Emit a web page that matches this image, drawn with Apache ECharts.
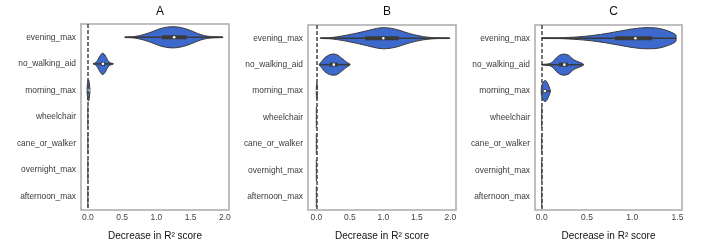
<!DOCTYPE html>
<html>
<head>
<meta charset="utf-8">
<script src="https://cdn.jsdelivr.net/npm/echarts@6/dist/echarts.min.js"></script>
<style>
  html, body { margin: 0; padding: 0; background: #fff; }
  #chart { width: 720px; height: 246px; }
</style>
</head>
<body>
<div id="chart"></div>
<script>
const features = ['evening_max', 'no_walking_aid', 'morning_max', 'wheelchair', 'cane_or_walker', 'overnight_max', 'afternoon_max']
const panelTitles = ['A', 'B', 'C']
const ticksAB = [0, 0.5, 1, 1.5, 2]
const ticksC = [0, 0.5, 1, 1.5]

// violin outlines: [value, half width as share of the category band]
const flat = [[0, 0.4]]
const profA = [
  [[0.54, 0.01], [0.65, 0.02], [0.75, 0.06], [0.85, 0.13], [0.95, 0.22], [1.05, 0.32], [1.15, 0.38], [1.25, 0.4], [1.35, 0.37], [1.45, 0.3], [1.55, 0.2], [1.65, 0.1], [1.75, 0.04], [1.85, 0.02], [1.97, 0.01]],
  [[0.08, 0.01], [0.12, 0.05], [0.16, 0.22], [0.2, 0.38], [0.22, 0.4], [0.25, 0.33], [0.28, 0.18], [0.31, 0.07], [0.35, 0.02], [0.37, 0.01]],
  [[-0.01, 0.1], [0.0, 0.35], [0.01, 0.4], [0.02, 0.3], [0.03, 0.05]],
  flat, flat, flat, flat
]
const profB = [
  [[0.06, 0.01], [0.2, 0.02], [0.3, 0.05], [0.4, 0.09], [0.5, 0.14], [0.6, 0.19], [0.7, 0.25], [0.8, 0.31], [0.9, 0.37], [1.0, 0.4], [1.1, 0.38], [1.2, 0.33], [1.3, 0.25], [1.4, 0.17], [1.5, 0.11], [1.6, 0.06], [1.7, 0.03], [1.8, 0.015], [1.99, 0.01]],
  [[0.045, 0.02], [0.08, 0.12], [0.12, 0.25], [0.17, 0.34], [0.22, 0.39], [0.27, 0.4], [0.32, 0.36], [0.37, 0.26], [0.42, 0.16], [0.46, 0.08], [0.5, 0.02]],
  [[0.0, 0.15], [0.008, 0.3], [0.016, 0.1]],
  flat, flat, flat, flat
]
const profC = [
  [[0.0, 0.01], [0.2, 0.015], [0.3, 0.03], [0.4, 0.05], [0.5, 0.08], [0.6, 0.12], [0.7, 0.17], [0.8, 0.23], [0.9, 0.29], [1.0, 0.35], [1.1, 0.39], [1.2, 0.4], [1.3, 0.37], [1.4, 0.27], [1.48, 0.13], [1.485, 0.0]],
  [[0.0, 0.01], [0.08, 0.03], [0.12, 0.1], [0.16, 0.25], [0.2, 0.36], [0.25, 0.4], [0.3, 0.35], [0.34, 0.22], [0.38, 0.14], [0.42, 0.09], [0.46, 0.02]],
  [[-0.005, 0.05], [0.0, 0.2], [0.02, 0.36], [0.04, 0.4], [0.06, 0.33], [0.08, 0.18], [0.095, 0.03]],
  flat, flat, flat, flat
]

// inner box: [q1, median, q3]
const boxA = [[1.08, 1.26, 1.44], [0.19, 0.22, 0.25], [0.0, 0.01, 0.015], null, null, null, null]
const boxB = [[0.73, 1.0, 1.23], [0.2, 0.26, 0.32], [0.0, 0.008, 0.012], null, null, null, null]
const boxC = [[0.81, 1.035, 1.22], [0.19, 0.25, 0.29], [0.02, 0.035, 0.05], null, null, null, null]

const grids = [
  { left: 81, width: 148, top: 24, height: 190 },
  { left: 308, width: 148, top: 25, height: 189 },
  { left: 535, width: 147, top: 25, height: 189 }
]
const ranges = [[-0.1, 2.06], [-0.125, 2.085], [-0.074, 1.55]]

function violinSeries(k, profiles, boxes) {
  return {
    type: 'custom',
    xAxisIndex: k,
    yAxisIndex: k,
    encode: { x: 0, y: 1 },
    data: features.map((f, i) => [profiles[i][0][0], i]),
    renderItem(params, api) {
      const i = params.dataIndex
      const prof = profiles[i]
      const band = api.size([0, 1])[1]
      const cy = api.coord([0, i])[1]
      const children = []
      if (prof.length === 1) {
        const x = api.coord([prof[0][0], i])[0]
        children.push({
          type: 'line',
          shape: { x1: x, y1: cy - prof[0][1] * band, x2: x, y2: cy + prof[0][1] * band },
          style: { stroke: '#555', lineWidth: 1.2 }
        })
        return { type: 'group', children }
      }
      const top = prof.map(([v, w]) => [api.coord([v, i])[0], cy - w * band])
      const bot = prof.slice().reverse().map(([v, w]) => [api.coord([v, i])[0], cy + w * band])
      children.push({
        type: 'polygon',
        shape: { points: top.concat(bot), smooth: 0.3 },
        style: { fill: '#3d68cc', stroke: '#3a3a3a', lineWidth: 1 }
      })
      const x0 = api.coord([prof[0][0], i])[0]
      const x1 = api.coord([prof[prof.length - 1][0], i])[0]
      children.push({
        type: 'line',
        shape: { x1: x0, y1: cy, x2: x1, y2: cy },
        style: { stroke: '#3a3a3a', lineWidth: 1.5 }
      })
      const b = boxes[i]
      if (b) {
        const q1 = api.coord([b[0], i])[0]
        const q3 = api.coord([b[2], i])[0]
        const md = api.coord([b[1], i])[0]
        children.push({
          type: 'rect',
          shape: { x: q1, y: cy - 2, width: Math.max(q3 - q1, 1), height: 4 },
          style: { fill: '#3a3a3a' }
        })
        children.push({
          type: 'circle',
          shape: { cx: md, cy: cy, r: 1.3 },
          style: { fill: '#fff' }
        })
      }
      return { type: 'group', children }
    },
    markLine: {
      silent: true,
      symbol: 'none',
      label: { show: false },
      lineStyle: { type: [4, 2], color: '#444', width: 1.5 },
      data: [{ xAxis: 0 }]
    },
    z: 3
  }
}

const chart = echarts.init(document.getElementById('chart'), null, { renderer: 'canvas' })
chart.setOption({
  animation: false,
  backgroundColor: '#fff',
  title: panelTitles.map((t, k) => ({
    text: t,
    left: grids[k].left + grids[k].width / 2,
    top: 1,
    textAlign: 'center',
    textStyle: { fontFamily: 'Liberation Sans', fontSize: 12, fontWeight: 'normal', color: '#111' }
  })),
  grid: grids.map(g => Object.assign({ show: true, borderColor: '#aaa', borderWidth: 1.5, backgroundColor: '#fff' }, g)),
  xAxis: ranges.map((r, k) => ({
    type: 'value',
    gridIndex: k,
    min: r[0],
    max: r[1],
    splitLine: { show: false },
    axisLine: { show: false },
    axisTick: { show: false },
    axisLabel: {
      customValues: k === 2 ? ticksC : ticksAB,
      formatter: v => v.toFixed(1),
      fontFamily: 'Liberation Sans',
      fontSize: 8.5,
      color: '#444',
      margin: 3
    },
    name: 'Decrease in R² score',
    nameLocation: 'middle',
    nameGap: 21,
    nameTextStyle: { fontFamily: 'Liberation Sans', fontSize: 10, color: '#111' }
  })),
  yAxis: grids.map((g, k) => ({
    type: 'category',
    gridIndex: k,
    data: features,
    inverse: true,
    axisLine: { show: false },
    axisTick: { show: false },
    splitLine: { show: false },
    axisLabel: { fontFamily: 'Liberation Sans', fontSize: 8.4, color: '#3a3a3a', margin: 5 }
  })),
  series: [
    violinSeries(0, profA, boxA),
    violinSeries(1, profB, boxB),
    violinSeries(2, profC, boxC)
  ]
})
</script>
</body>
</html>
